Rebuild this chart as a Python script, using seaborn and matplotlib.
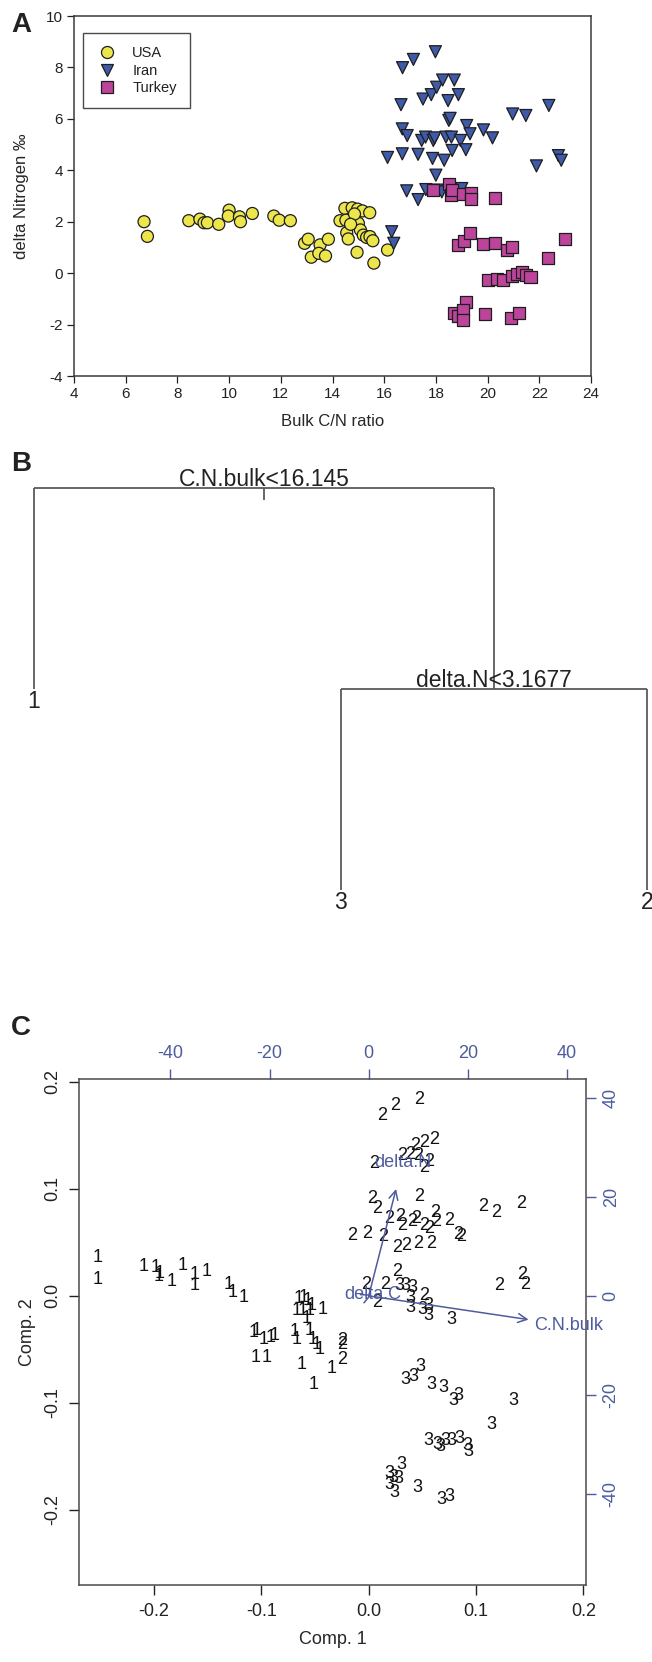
import matplotlib
matplotlib.use("Agg")
import matplotlib.pyplot as plt
import numpy as np
import pandas as pd
import seaborn as sns

FONT = ["Liberation Sans", "DejaVu Sans"]
TEXT_COLOR = "#222222"
FRAME_COLOR = "#3a3a3a"
TREE_COLOR = "#5a5a5a"
ARROW_COLOR = "#4e5c9e"
GROUP_COLORS = {"USA": "#EDE64A", "Iran": "#3E5AA8", "Turkey": "#BC449B"}
GROUP_MARKERS = {"USA": "o", "Iran": "v", "Turkey": "s"}

# ---- panel A: bulk C/N ratio vs delta 15N ----
usa_cn = [6.71, 6.84, 8.44, 8.87, 9.03, 9.16, 9.60, 10.0, 9.97, 10.4, 10.44, 10.9, 11.73, 11.94,
          12.37, 12.92, 13.06, 13.18, 13.52, 13.47, 13.73, 13.84, 14.29, 14.48, 14.76, 14.52,
          14.55, 14.61, 14.97, 15.16, 15.0, 15.08, 15.44, 15.19, 15.32, 15.45, 15.56, 14.95,
          15.6, 16.13, 14.85, 14.7]
usa_dn = [2.0, 1.43, 2.04, 2.10, 1.96, 1.96, 1.90, 2.45, 2.22, 2.19, 2.0, 2.32, 2.22, 2.06,
          2.04, 1.16, 1.32, 0.62, 1.10, 0.77, 0.67, 1.32, 2.04, 2.52, 2.54, 2.06,
          1.57, 1.33, 2.49, 2.42, 1.94, 1.68, 2.35, 1.48, 1.39, 1.42, 1.26, 0.81,
          0.39, 0.90, 2.30, 1.90]
iran_cn = [16.29, 16.37, 16.13, 16.65, 16.7, 16.71, 17.13, 17.98, 16.7, 16.89, 16.87, 17.31,
           17.31, 17.5, 17.45, 17.61, 17.6, 17.82, 17.87, 17.9, 17.95, 18.03, 18.0, 18.06,
           18.23, 18.26, 18.32, 18.39, 18.47, 18.5, 18.55, 18.6, 18.63, 18.71, 18.87, 18.95,
           19.0, 19.16, 19.19, 19.32, 19.84, 20.19, 20.97, 21.48, 21.89, 22.37, 22.74, 22.85]
iran_dn = [1.61, 1.16, 4.50, 6.55, 5.61, 7.99, 8.31, 8.61, 4.64, 5.35, 3.20, 2.86,
           4.62, 6.77, 5.16, 3.25, 5.29, 6.94, 4.46, 5.16, 5.26, 7.23, 3.81, 3.23,
           3.16, 7.51, 4.39, 5.29, 6.71, 5.94, 6.02, 5.29, 4.77, 7.51, 6.94, 5.16,
           3.29, 4.80, 5.74, 5.42, 5.57, 5.26, 6.19, 6.13, 4.17, 6.52, 4.57, 4.39]
turkey_cn = [17.9, 18.52, 18.58, 18.63, 19.06, 19.35, 19.35, 20.29, 18.84, 19.1, 19.31, 19.84,
             20.29, 20.76, 20.94, 22.34, 22.98, 20.0, 20.35, 20.6, 20.94, 21.13, 21.32,
             21.48, 21.66, 18.71, 18.87, 19.16, 19.06, 19.03, 19.89, 20.89, 21.21]
turkey_dn = [3.25, 3.46, 3.03, 3.25, 3.06, 3.12, 2.90, 2.94, 1.10, 1.26, 1.55, 1.14,
             1.16, 0.90, 1.03, 0.58, 1.32, -0.26, -0.23, -0.28, -0.10, -0.03, 0.06,
             -0.06, -0.15, -1.55, -1.68, -1.13, -1.45, -1.83, -1.59, -1.75, -1.55]

# ---- panel B: classification tree (uniform depth layout) ----
split_labels = ["C.N.bulk<16.145", "delta.N<3.1677"]
leaf_labels = ["1", "3", "2"]
leaf_pos = [1, 2, 3]
leaf_depth = [1, 2, 2]

# ---- panel C: PCA biplot, scores labelled by tree class ----
g1_pc1 = [-0.2528, -0.2528, -0.2101, -0.1984, -0.1946, -0.1732, -0.1623, -0.1511, -0.1957,
          -0.1841, -0.1623, -0.1305, -0.1266, -0.1169, -0.0652, -0.0606, -0.0567, -0.0528,
          -0.0676, -0.0614, -0.0548, -0.0431, -0.0575, -0.1072, -0.1041, -0.0975, -0.0917,
          -0.0878, -0.0691, -0.0676, -0.0548, -0.0520, -0.0489, -0.0458, -0.1052, -0.0955,
          -0.0625, -0.0346, -0.0509]
g1_pc2 = [0.0356, 0.0156, 0.0272, 0.0263, 0.0210, 0.0288, 0.0195, 0.0226, 0.0181,
          0.0131, 0.0100, 0.0109, 0.0031, -0.0016, -0.0025, -0.0016, -0.0047, -0.0087,
          -0.0140, -0.0140, -0.0140, -0.0131, -0.0212, -0.0343, -0.0321, -0.0411, -0.0389,
          -0.0374, -0.0336, -0.0405, -0.0327, -0.0405, -0.0452, -0.0498, -0.0576, -0.0576,
          -0.0639, -0.0679, -0.0826]
g2_pc1 = [0.0124, 0.0249, 0.0470, 0.0435, 0.0520, 0.0610, 0.0307, 0.0384, 0.0462, 0.0054,
          0.0520, 0.0560, 0.0035, 0.0074, 0.0470, 0.0617, 0.0629, 0.0190, 0.0295, 0.0307,
          0.0400, 0.0443, 0.0520, 0.0560, 0.0753, 0.1064, 0.1188, 0.1420, 0.0831, 0.0858,
          -0.0159, -0.0016, 0.0136, 0.0268, 0.0346, 0.0462, 0.0579, 0.0268, 0.1433, 0.1460,
          0.1220, -0.0023, 0.0074, 0.0151, 0.0520, -0.0249, -0.0249, -0.0249]
g2_pc2 = [0.1687, 0.1780, 0.1830, 0.1400, 0.1430, 0.1460, 0.1310, 0.1316, 0.1310, 0.1240,
          0.1200, 0.1250, 0.0907, 0.0814, 0.0932, 0.0783, 0.0690, 0.0720, 0.0737, 0.0660,
          0.0690, 0.0720, 0.0660, 0.0630, 0.0706, 0.0830, 0.0783, 0.0860, 0.0573, 0.0550,
          0.0560, 0.0582, 0.0550, 0.0449, 0.0474, 0.0489, 0.0489, 0.0226, 0.0202, 0.0109,
          0.0093, 0.0109, -0.0062, 0.0109, 0.0000, -0.0420, -0.0450, -0.0590]
g3_pc1 = [0.0287, 0.0346, 0.0404, 0.0384, 0.0384, 0.0500, 0.0560, 0.0560, 0.0773, 0.0346,
          0.0412, 0.0482, 0.0586, 0.0695, 0.0831, 0.0792, 0.1344, 0.1142, 0.0560, 0.0637,
          0.0668, 0.0715, 0.0773, 0.0843, 0.0917, 0.0928, 0.0307, 0.0190, 0.0229, 0.0276,
          0.0190, 0.0241, 0.0454, 0.0676, 0.0753]
g3_pc2 = [0.0093, 0.0093, 0.0078, -0.0016, -0.0109, -0.0125, -0.0087, -0.0187, -0.0218, -0.0779,
          -0.0754, -0.0660, -0.0826, -0.0857, -0.0928, -0.0981, -0.0981, -0.1200, -0.1355, -0.1386,
          -0.1408, -0.1355, -0.1346, -0.1333, -0.1396, -0.1449, -0.1573, -0.1657, -0.1698, -0.1707,
          -0.1760, -0.1832, -0.1790, -0.1900, -0.1869]
var_names = ["delta.N", "C.N.bulk", "delta.C"]
load_x = [6.9, 40.3, 0.8]
load_y = [27.0, -6.0, 0.35]
LOAD_SCALE = 216.4


def style() -> None:
    sns.set_theme(style="white")
    plt.rcParams.update(
        {
            "font.family": FONT,
            "text.color": TEXT_COLOR,
            "axes.edgecolor": FRAME_COLOR,
            "axes.linewidth": 1.0,
            "axes.unicode_minus": False,
            "xtick.color": TEXT_COLOR,
            "ytick.color": TEXT_COLOR,
            "figure.facecolor": "white",
            "axes.facecolor": "white",
        }
    )


def panel_letter(fig, x_px, y_px, letter):
    fig.text(x_px / 652, 1 - y_px / 1662, letter, fontsize=20, fontweight="bold",
             ha="center", va="center", family=["Liberation Sans Narrow", "Liberation Sans"])


def draw_a(fig):
    ax = fig.add_axes([74 / 652, 1 - 376 / 1662, 517 / 652, 360 / 1662])
    df = pd.concat(
        [
            pd.DataFrame({"cn": usa_cn, "dn": usa_dn, "site": "USA"}),
            pd.DataFrame({"cn": iran_cn, "dn": iran_dn, "site": "Iran"}),
            pd.DataFrame({"cn": turkey_cn, "dn": turkey_dn, "site": "Turkey"}),
        ],
        ignore_index=True,
    )
    sns.scatterplot(data=df, x="cn", y="dn", hue="site", style="site",
                    palette=GROUP_COLORS, markers=GROUP_MARKERS, s=75,
                    edgecolor="#1e1e1e", linewidth=0.9, ax=ax, legend=True)
    ax.set_xlim(4, 24)
    ax.set_ylim(-4, 10)
    ax.set_xticks(np.arange(4, 25, 2))
    ax.set_yticks(np.arange(-4, 11, 2))
    ax.tick_params(direction="out", length=5, width=0.9, labelsize=11, pad=3,
                   bottom=True, left=True)
    ax.set_xlabel("Bulk C/N ratio", fontsize=12, labelpad=9)
    ax.set_ylabel("delta Nitrogen \u2030", fontsize=12, labelpad=12)
    for sp in ax.spines.values():
        sp.set_linewidth(1.1)
    handles, labels = ax.get_legend_handles_labels()
    leg = ax.legend(handles, labels, loc="upper left", bbox_to_anchor=(0.017, 0.953),
                    borderaxespad=0, frameon=True, fancybox=False, fontsize=10.5,
                    handlelength=1.5, handletextpad=1.0, labelspacing=0.25,
                    borderpad=0.9, markerscale=1.0)
    leg.get_frame().set_edgecolor("#1e1e1e")
    leg.get_frame().set_linewidth(1.0)


def draw_b(fig):
    ax = fig.add_axes([34 / 652, 1 - 890 / 1662, 613 / 652, 402 / 1662])
    ax.set_xlim(leaf_pos[0], leaf_pos[-1])
    ax.set_ylim(2, 0)
    ax.axis("off")
    kw = {"color": TREE_COLOR, "lw": 1.3, "clip_on": False, "solid_capstyle": "butt"}
    right_x = (leaf_pos[1] + leaf_pos[2]) / 2
    root_x = (leaf_pos[0] + right_x) / 2
    ax.plot([leaf_pos[0], right_x], [0, 0], **kw)
    ax.plot([leaf_pos[0], leaf_pos[0]], [0, leaf_depth[0]], **kw)
    ax.plot([right_x, right_x], [0, 1], **kw)
    ax.plot([root_x, root_x], [0, 0.06], **kw)
    ax.plot([leaf_pos[1], leaf_pos[2]], [1, 1], **kw)
    ax.plot([leaf_pos[1], leaf_pos[1]], [1, leaf_depth[1]], **kw)
    ax.plot([leaf_pos[2], leaf_pos[2]], [1, leaf_depth[2]], **kw)
    ax.annotate(split_labels[0], (root_x, 0), xytext=(0, 1.5), textcoords="offset points",
                ha="center", va="baseline", fontsize=16.5, annotation_clip=False)
    ax.annotate(split_labels[1], (right_x, 1), xytext=(0, 1.5), textcoords="offset points",
                ha="center", va="baseline", fontsize=16.5, annotation_clip=False)
    for x, d, lab in zip(leaf_pos, leaf_depth, leaf_labels):
        ax.annotate(lab, (x, d), xytext=(0, -1), textcoords="offset points",
                    ha="center", va="top", fontsize=16.5, annotation_clip=False)


def draw_c(fig):
    ax = fig.add_axes([79 / 652, 1 - 1585 / 1662, 507 / 652, 506 / 1662])
    lim = (-0.270, 0.2025)
    ax.set_xlim(lim)
    ax.set_ylim(lim)
    for xs, ys, lab in [(g1_pc1, g1_pc2, "1"), (g2_pc1, g2_pc2, "2"), (g3_pc1, g3_pc2, "3")]:
        for x, y in zip(xs, ys):
            ax.text(x, y, lab, ha="center", va="center", fontsize=13, color="#111111")
    for name, lx, ly in zip(var_names, load_x, load_y):
        tx, ty = lx / LOAD_SCALE, ly / LOAD_SCALE
        ax.annotate("", xy=(0.8 * tx, 0.8 * ty), xytext=(0, 0),
                    arrowprops={"arrowstyle": "->", "color": ARROW_COLOR, "lw": 1.1,
                                "mutation_scale": 16, "shrinkA": 0, "shrinkB": 0})
        ax.text(tx, ty, name, ha="center", va="center", fontsize=13, color=ARROW_COLOR)
    ticks = [-0.2, -0.1, 0.0, 0.1, 0.2]
    ax.set_xticks(ticks)
    ax.set_yticks(ticks)
    ax.tick_params(direction="out", length=7, width=1.0, labelsize=13, pad=6,
                   bottom=True, left=True)
    ax.tick_params(axis="y", labelrotation=90)
    for lbl in ax.get_yticklabels():
        lbl.set_va("center")
    ax.set_xlabel("Comp. 1", fontsize=13, labelpad=8)
    ax.set_ylabel("Comp. 2", fontsize=13, labelpad=6)
    for sp in ax.spines.values():
        sp.set_color("#4a4a4a")
        sp.set_linewidth(1.1)

    funcs = (lambda v: v * LOAD_SCALE, lambda v: v / LOAD_SCALE)
    top = ax.secondary_xaxis("top", functions=funcs)
    top.set_xticks([-40, -20, 0, 20, 40])
    top.tick_params(direction="out", length=7, width=1.0, labelsize=13, pad=5,
                    colors=ARROW_COLOR)
    top.spines["top"].set_visible(False)
    right = ax.secondary_yaxis("right", functions=funcs)
    right.set_yticks([-40, -20, 0, 20, 40])
    right.tick_params(direction="out", length=7, width=1.0, labelsize=13, pad=5,
                      colors=ARROW_COLOR, labelrotation=90)
    right.spines["right"].set_visible(False)
    for lbl in right.get_yticklabels():
        lbl.set_va("center")


def main():
    style()
    fig = plt.figure(figsize=(6.52, 16.62), dpi=100)
    draw_a(fig)
    draw_b(fig)
    draw_c(fig)
    panel_letter(fig, 21, 25, "A")
    panel_letter(fig, 21, 464, "B")
    panel_letter(fig, 21, 1028, "C")
    fig.savefig("out.png", dpi=100)


if __name__ == "__main__":
    main()
